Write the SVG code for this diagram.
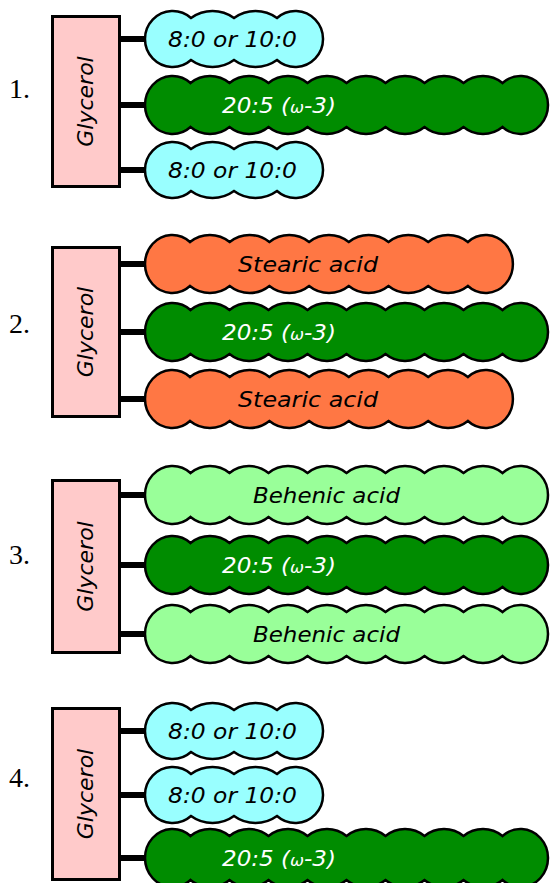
<svg xmlns="http://www.w3.org/2000/svg" width="550" height="883" viewBox="0 0 550 883">
<style>
.box{fill:#ffcaca;stroke:#000;stroke-width:3}
.ch{stroke:#000;stroke-width:2.5}
.cy{fill:#99ffff}.dg{fill:#008c00}.or{fill:#ff7744}.lg{fill:#99ff99}
.lbl{font-family:"DejaVu Sans",sans-serif;font-style:italic;font-size:22px;fill:#000}
.w{fill:#fff}
.om{font-size:16px}
.gl{font-family:"DejaVu Sans",sans-serif;font-style:italic;font-size:22px;text-anchor:middle;fill:#000}
.num{font-family:"Liberation Serif",serif;font-size:28px;fill:#000}
.con line{stroke:#000;stroke-width:6}
</style>
<defs>
<path id="p4" d="M46,-21 a36.5,36.5 0 0 1 43,0 a36.5,36.5 0 0 1 43,0 a27.7,28 0 1 1 0,42 a36.5,36.5 0 0 1 -43,0 a36.5,36.5 0 0 1 -43,0 a27.7,28 0 1 1 0,-42 Z"/>
<path id="p9" d="M45,-22 a31.6,31.6 0 0 1 39.7,0 a31.6,31.6 0 0 1 39.7,0 a31.6,31.6 0 0 1 39.7,0 a31.6,31.6 0 0 1 39.7,0 a31.6,31.6 0 0 1 39.7,0 a31.6,31.6 0 0 1 39.7,0 a31.6,31.6 0 0 1 39.7,0 a27.25,29 0 1 1 0,44 a31.6,31.6 0 0 1 -39.7,0 a31.6,31.6 0 0 1 -39.7,0 a31.6,31.6 0 0 1 -39.7,0 a31.6,31.6 0 0 1 -39.7,0 a31.6,31.6 0 0 1 -39.7,0 a31.6,31.6 0 0 1 -39.7,0 a31.6,31.6 0 0 1 -39.7,0 a27.25,29 0 1 1 0,-44 Z"/>
<path id="p10" d="M45.5,-22 a30.7,30.7 0 0 1 39,0 a30.7,30.7 0 0 1 39,0 a30.7,30.7 0 0 1 39,0 a30.7,30.7 0 0 1 39,0 a30.7,30.7 0 0 1 39,0 a30.7,30.7 0 0 1 39,0 a30.7,30.7 0 0 1 39,0 a30.7,30.7 0 0 1 39,0 a27.55,29 0 1 1 0,44 a30.7,30.7 0 0 1 -39,0 a30.7,30.7 0 0 1 -39,0 a30.7,30.7 0 0 1 -39,0 a30.7,30.7 0 0 1 -39,0 a30.7,30.7 0 0 1 -39,0 a30.7,30.7 0 0 1 -39,0 a30.7,30.7 0 0 1 -39,0 a30.7,30.7 0 0 1 -39,0 a27.55,29 0 1 1 0,-44 Z"/>
</defs>

<g id="connectors" class="con">
<line x1="120" y1="39" x2="148" y2="39"/>
<line x1="120" y1="105" x2="148" y2="105"/>
<line x1="120" y1="170" x2="148" y2="170"/>
<line x1="120" y1="264" x2="148" y2="264"/>
<line x1="120" y1="332" x2="148" y2="332"/>
<line x1="120" y1="399" x2="148" y2="399"/>
<line x1="120" y1="495" x2="148" y2="495"/>
<line x1="120" y1="565" x2="148" y2="565"/>
<line x1="120" y1="634" x2="148" y2="634"/>
<line x1="120" y1="731" x2="148" y2="731"/>
<line x1="120" y1="795" x2="148" y2="795"/>
<line x1="120" y1="858" x2="148" y2="858"/>
</g>

<g id="labels">
<text class="num" x="9" y="98">1.</text>
<text class="num" x="9" y="333">2.</text>
<text class="num" x="9" y="564">3.</text>
<text class="num" x="9" y="787">4.</text>
</g>

<g id="glycerol-1"><rect class="box" x="52.5" y="16.5" width="67" height="170"/><text class="gl" transform="translate(93,101.5) rotate(-90)">Glycerol</text></g>
<g id="chain-1a"><use href="#p4" x="145" y="39" class="ch cy"/><text class="lbl" x="168" y="47" textLength="129" lengthAdjust="spacingAndGlyphs">8:0 or 10:0</text></g>
<g id="chain-1b"><use href="#p10" x="145" y="105" class="ch dg"/><text class="lbl w" x="222" y="113" textLength="114" lengthAdjust="spacingAndGlyphs">20:5 (<tspan class="om">ω</tspan>-3)</text></g>
<g id="chain-1c"><use href="#p4" x="145" y="170" class="ch cy"/><text class="lbl" x="168" y="178" textLength="129" lengthAdjust="spacingAndGlyphs">8:0 or 10:0</text></g>

<g id="glycerol-2"><rect class="box" x="52.5" y="247.5" width="67" height="169"/><text class="gl" transform="translate(93,332) rotate(-90)">Glycerol</text></g>
<g id="chain-2a"><use href="#p9" x="145" y="264" class="ch or"/><text class="lbl" x="238" y="272" textLength="140" lengthAdjust="spacingAndGlyphs">Stearic acid</text></g>
<g id="chain-2b"><use href="#p10" x="145" y="332" class="ch dg"/><text class="lbl w" x="222" y="340" textLength="114" lengthAdjust="spacingAndGlyphs">20:5 (<tspan class="om">ω</tspan>-3)</text></g>
<g id="chain-2c"><use href="#p9" x="145" y="399" class="ch or"/><text class="lbl" x="238" y="407" textLength="140" lengthAdjust="spacingAndGlyphs">Stearic acid</text></g>

<g id="glycerol-3"><rect class="box" x="52.5" y="480.5" width="67" height="172"/><text class="gl" transform="translate(93,566.5) rotate(-90)">Glycerol</text></g>
<g id="chain-3a"><use href="#p10" x="145" y="495" class="ch lg"/><text class="lbl" x="253" y="503" textLength="147" lengthAdjust="spacingAndGlyphs">Behenic acid</text></g>
<g id="chain-3b"><use href="#p10" x="145" y="565" class="ch dg"/><text class="lbl w" x="222" y="573" textLength="114" lengthAdjust="spacingAndGlyphs">20:5 (<tspan class="om">ω</tspan>-3)</text></g>
<g id="chain-3c"><use href="#p10" x="145" y="634" class="ch lg"/><text class="lbl" x="253" y="642" textLength="147" lengthAdjust="spacingAndGlyphs">Behenic acid</text></g>

<g id="glycerol-4"><rect class="box" x="52.5" y="708.5" width="67" height="171"/><text class="gl" transform="translate(93,794) rotate(-90)">Glycerol</text></g>
<g id="chain-4a"><use href="#p4" x="145" y="731" class="ch cy"/><text class="lbl" x="168" y="739" textLength="129" lengthAdjust="spacingAndGlyphs">8:0 or 10:0</text></g>
<g id="chain-4b"><use href="#p4" x="145" y="795" class="ch cy"/><text class="lbl" x="168" y="803" textLength="129" lengthAdjust="spacingAndGlyphs">8:0 or 10:0</text></g>
<g id="chain-4c"><use href="#p10" x="145" y="858" class="ch dg"/><text class="lbl w" x="222" y="866" textLength="114" lengthAdjust="spacingAndGlyphs">20:5 (<tspan class="om">ω</tspan>-3)</text></g>
</svg>
